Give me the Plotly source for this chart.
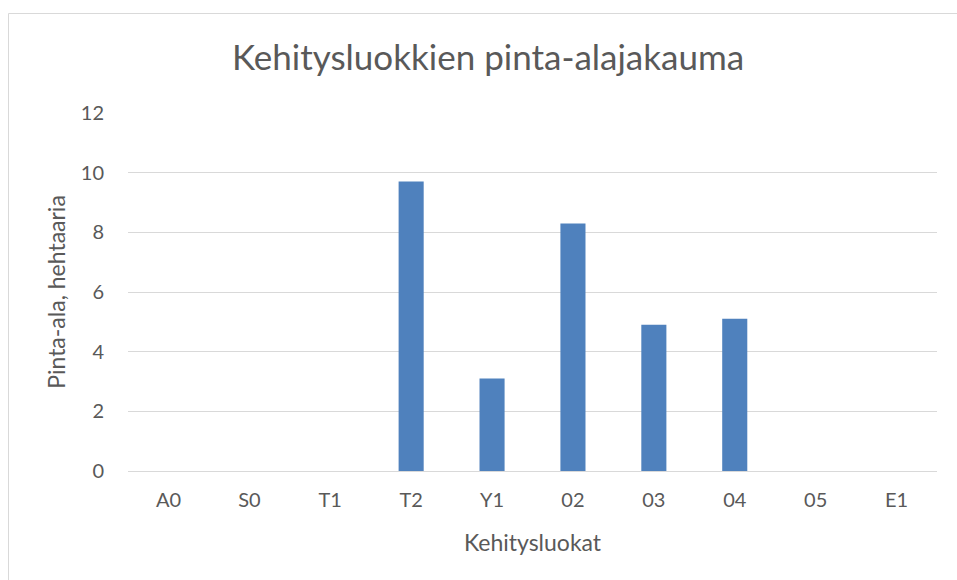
import plotly.graph_objects as go

categories = ["A0", "S0", "T1", "T2", "Y1", "02", "03", "04", "05", "E1"]
values = [0, 0, 0, 9.7, 3.1, 8.3, 4.9, 5.1, 0, 0]
y_ticks = [0, 2, 4, 6, 8, 10, 12]

FONT = "Lato"
TXT = "#595959"

fig = go.Figure(go.Bar(x=categories, y=values, marker=dict(color="#4F81BD", line=dict(width=0))))

W, H = 957, 580
ml, mr, mt, mb = 128, 20, 113, 109
pw, ph = W - ml - mr, H - mt - mb

def px2x(p):
    return (p - ml) / pw

def px2y(p):
    return (H - mb - p) / ph

fig.update_layout(
    width=W, height=H,
    margin=dict(l=ml, r=mr, t=mt, b=mb, pad=0),
    paper_bgcolor="white", plot_bgcolor="white",
    bargap=0.69,
    showlegend=False,
    title=dict(text="Kehitysluokkien pinta-alajakauma", x=px2x(488), xref="paper", xanchor="center",
               y=1 - 58 / H, yanchor="middle",
               font=dict(family=FONT, size=35, color=TXT)),
    font=dict(family=FONT, color=TXT),
    xaxis=dict(type="category", showgrid=False, showline=True, linecolor="#D9D9D9", linewidth=1,
               ticks="", tickfont=dict(size=20, color=TXT), ticklabelstandoff=11,
               title=dict(text="Kehitysluokat", font=dict(size=23, color=TXT), standoff=24)),
    yaxis=dict(range=[0, 12], tickvals=y_ticks, showgrid=True, gridcolor="#D9D9D9", gridwidth=1,
               zeroline=False, showline=False, ticks="", ticklabelstandoff=23,
               tickfont=dict(size=20, color=TXT),
               title=dict(text="Pinta-ala, hehtaaria", font=dict(size=23, color=TXT), standoff=8)),
    shapes=[dict(type="rect", xref="paper", yref="paper",
                 x0=px2x(8.5), x1=px2x(990), y0=px2y(13.5), y1=px2y(620),
                 line=dict(color="#D9D9D9", width=1), fillcolor="rgba(0,0,0,0)", layer="below")],
)

fig.write_html("out.html", config={"displayModeBar": False},
               post_script="document.body.style.margin='0';")
